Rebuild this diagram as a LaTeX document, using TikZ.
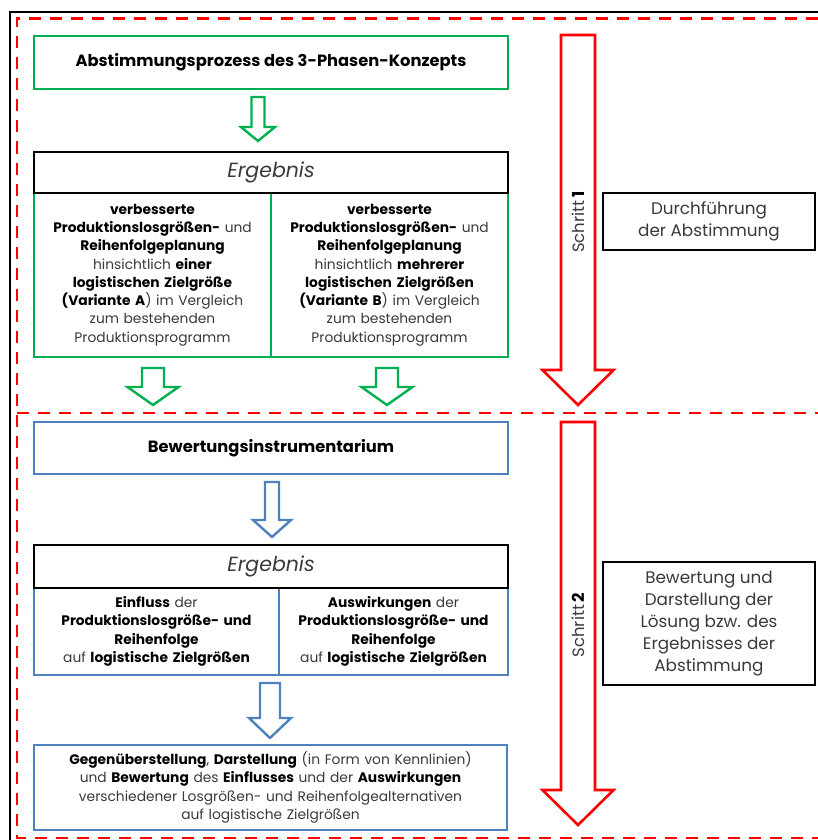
\documentclass[tikz,border=0pt]{standalone}
\usepackage{fontspec}
\setmainfont{Poppins}
\definecolor{grn}{HTML}{00B050}
\definecolor{blu}{HTML}{4F81BD}
\definecolor{rd}{HTML}{FF0000}
\definecolor{txt}{HTML}{3A3A3A}
\newcommand{\bx}[1]{{\bfseries\color{black}#1}}
% block arrow: centre x, top y, head start y, tip y, shaft half-width, head half-width
\newcommand{\blockarrow}[7]{%
  \draw[#7] (#1-#5,#2) -- (#1+#5,#2) -- (#1+#5,#3) -- (#1+#6,#3) -- (#1,#4)
    -- (#1-#6,#3) -- (#1-#5,#3) -- cycle;}
\begin{document}
\begin{tikzpicture}[x=1pt,y=-1pt,
  gbox/.style={draw=grn,line width=2.4pt,rectangle,align=center,inner sep=0pt},
  bbox/.style={draw=blu,line width=2.4pt,rectangle,align=center,inner sep=0pt},
  kbox/.style={draw=black,line width=2.4pt,rectangle,align=center,inner sep=0pt},
  body/.style={font=\fontsize{13.8}{18.3}\selectfont,text=txt},
  head/.style={font=\fontsize{16.3}{19}\selectfont\bfseries,text=black},
  erg/.style={font=\fontsize{20.5}{24}\selectfont\itshape,text=txt},
  side/.style={font=\fontsize{16.8}{21.8}\selectfont,text=txt},
  schritt/.style={rotate=90,font=\fontsize{16.5}{19}\selectfont,text=txt},
  garrow/.style={draw=grn,line width=2.4pt,fill=white,line join=miter},
  barrow/.style={draw=blu,line width=2.4pt,fill=white,line join=miter},
  rarrow/.style={draw=rd,line width=2.6pt,fill=white,line join=miter},
  frame/.style={draw=rd,line width=2.6pt,dash pattern=on 12pt off 9pt},
]
\useasboundingbox (0,0) rectangle (818,840);
\fill[white] (0,0) rectangle (818,840);

% outer frame
\draw[line width=2pt] (818,12) -- (9.5,12) -- (9.5,840);
\draw[frame] (818,18.5) -- (17,18.5) -- (17,838) -- (818,838);
\draw[frame] (17,413) -- (818,413);

% ---------- step 1 ----------
\node[gbox,head,minimum width=474pt,minimum height=53pt] (abst) at (271,62.5)
  {Abstimmungsprozess des 3-Phasen-Konzepts};
\node[gbox,body,minimum width=237pt,minimum height=164pt,text width=230pt] (varA) at (152.5,275)
  {\bx{verbesserte}\\ \bx{Produktionslosgrößen-} und\\ \bx{Reihenfolgeplanung}\\
   hinsichtlich \bx{einer}\\ \bx{logistischen Zielgröße}\\ \bx{(Variante A}) im Vergleich\\
   zum bestehenden\\ Produktionsprogramm};
\node[gbox,body,minimum width=237pt,minimum height=164pt,text width=230pt] (varB) at (389.5,275)
  {\bx{verbesserte}\\ \bx{Produktionslosgrößen-} und\\ \bx{Reihenfolgeplanung}\\
   hinsichtlich \bx{mehrerer}\\ \bx{logistischen Zielgrößen}\\ \bx{(Variante B}) im Vergleich\\
   zum bestehenden\\ Produktionsprogramm};
\node[kbox,erg,minimum width=474pt,minimum height=41pt] (erg1) at (271,172.5) {Ergebnis};

\blockarrow{258}{97}{127}{141}{6.5}{17}{garrow}
\blockarrow{153}{368}{387}{405}{11}{25.5}{garrow}
\blockarrow{387}{368}{387}{405}{11}{25.5}{garrow}

\blockarrow{578}{35}{370}{405}{17}{35.5}{rarrow}
\node[schritt] (s1) at (578,222) {Schritt\,\bx{1}};
\node[kbox,side,minimum width=212pt,minimum height=57pt] (durch) at (709,221.5)
  {Durchführung\\ der Abstimmung};

% ---------- step 2 ----------
\node[bbox,head,minimum width=474pt,minimum height=52pt] (bew) at (271,448)
  {Bewertungsinstrumentarium};
\node[bbox,body,minimum width=245pt,minimum height=87pt,text width=240pt] (einf) at (156.5,631.5)
  {\bx{Einfluss} der\\ \bx{Produktionslosgröße- und}\\ \bx{Reihenfolge}\\ auf \bx{logistische Zielgrößen}};
\node[bbox,body,minimum width=229pt,minimum height=87pt,text width=225pt] (ausw) at (393.5,631.5)
  {\bx{Auswirkungen} der\\ \bx{Produktionslosgröße- und}\\ \bx{Reihenfolge}\\ auf \bx{logistische Zielgrößen}};
\node[kbox,erg,minimum width=474pt,minimum height=43pt] (erg2) at (271,566.5) {Ergebnis};
\node[bbox,body,minimum width=473pt,minimum height=85pt,text width=465pt] (gegen) at (270.5,787.5)
  {\bx{Gegenüberstellung}, \bx{Darstellung} (in Form von Kennlinien)\\
   und \bx{Bewertung} des \bx{Einflusses} und der \bx{Auswirkungen}\\
   verschiedener Losgrößen- und Reihenfolgealternativen\\
   auf logistische Zielgrößen};

\blockarrow{272}{482}{520}{537}{7}{19}{barrow}
\blockarrow{270}{683}{718}{738}{10}{21}{barrow}

\blockarrow{578}{422}{790}{825}{17}{35.5}{rarrow}
\node[schritt] (s2) at (578,625) {Schritt\,\bx{2}};
\node[kbox,side,minimum width=212pt,minimum height=123pt] (bewd) at (709,623.5)
  {Bewertung und\\ Darstellung der\\ Lösung bzw. des\\ Ergebnisses der\\ Abstimmung};
\end{tikzpicture}
\end{document}
